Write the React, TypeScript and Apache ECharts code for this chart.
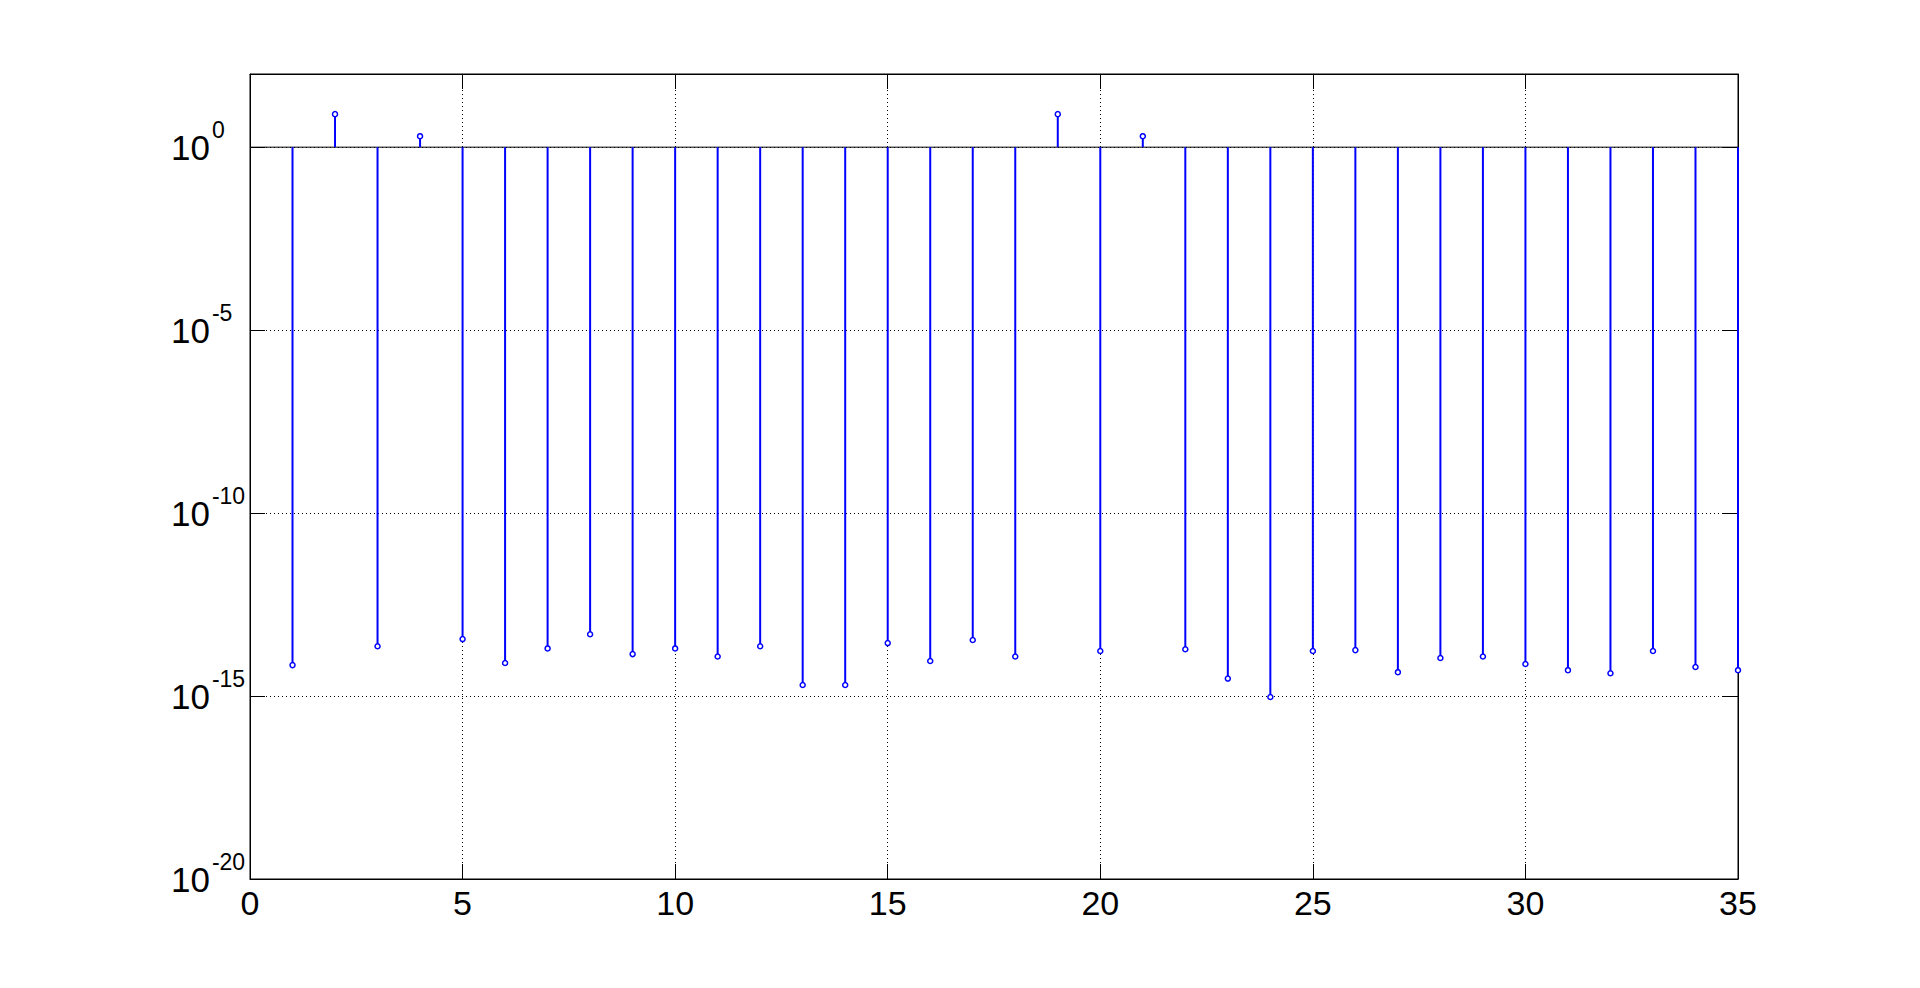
import React, { useEffect, useRef } from "react";
import * as echarts from "echarts";

const xValues: number[] = [
  1, 2, 3, 4, 5, 6, 7, 8, 9, 10, 11, 12, 13, 14, 15, 16, 17, 18, 19, 20,
  21, 22, 23, 24, 25, 26, 27, 28, 29, 30, 31, 32, 33, 34, 35,
];
const yValues: number[] = [
  7.0e-15, 8, 2.3e-14, 2, 3.6e-14, 8.0e-15, 2.0e-14, 4.9e-14, 1.4e-14, 2.0e-14,
  1.2e-14, 2.3e-14, 2.0e-15, 2.0e-15, 2.8e-14, 9.1e-15, 3.4e-14, 1.2e-14, 8, 1.7e-14,
  2, 1.9e-14, 3.0e-15, 9.4e-16, 1.7e-14, 1.8e-14, 4.5e-15, 1.1e-14, 1.2e-14, 7.5e-15,
  5.1e-15, 4.2e-15, 1.7e-14, 6.2e-15, 5.1e-15,
];
const baseValue = 1;
const xMin = 0;
const xMax = 35;
const xInterval = 5;
const yMin = 1e-20;
const yMax = 1e2;
const yDecadeStep = 5;

const FONT = "'Liberation Sans', Arial, Helvetica, sans-serif";

export default function App() {
  const ref = useRef<HTMLDivElement>(null);
  useEffect(() => {
    if (!ref.current) return;
    const chart = echarts.init(ref.current, undefined, { renderer: "svg" });
    const data = xValues.map((x, i) => [x, yValues[i]]);
    const yLabelFmt = (v: number) => {
      const e = Math.round(Math.log10(v));
      if (e % 5 !== 0) return "";
      return `{b|10}{e|${e}}`;
    };
    const splitLine = {
      show: true,
      lineStyle: { color: "#000", width: 1, type: [1, 3] as any },
    };
    const yCommon = {
      type: "log",
      logBase: 10,
      min: yMin,
      max: yMax,
      interval: yDecadeStep,
      splitNumber: 5,
    };
    chart.setOption({
      animation: false,
      backgroundColor: "#fff",
      grid: {
        left: 250,
        right: 182,
        top: 74,
        bottom: 109,
        show: true,
        borderColor: "#000",
        borderWidth: 1,
        backgroundColor: "transparent",
      },
      xAxis: [
        {
          type: "value",
          min: xMin,
          max: xMax,
          interval: xInterval,
          position: "bottom",
          axisLine: { show: true, onZero: false, lineStyle: { color: "#000", width: 1 } },
          axisTick: { show: true, inside: true, length: 15, lineStyle: { color: "#000" } },
          axisLabel: {
            show: true,
            color: "#000",
            fontSize: 34,
            fontFamily: FONT,
            margin: 7,
          },
          splitLine,
        },
        {
          type: "value",
          min: xMin,
          max: xMax,
          interval: xInterval,
          position: "top",
          axisLine: { show: true, onZero: false, lineStyle: { color: "#000", width: 1 } },
          axisTick: { show: true, inside: true, length: 15, lineStyle: { color: "#000" } },
          axisLabel: { show: false },
          splitLine: { show: false },
        },
      ],
      yAxis: [
        {
          ...yCommon,
          position: "left",
          axisLine: { show: true, onZero: false, lineStyle: { color: "#000", width: 1 } },
          axisTick: { show: true, inside: true, length: 15, lineStyle: { color: "#000" } },
          axisLabel: {
            show: true,
            align: "left",
            margin: 79,
            formatter: yLabelFmt,
            showMaxLabel: false,
            rich: {
              b: { fontSize: 35, fontFamily: FONT, color: "#000", lineHeight: 58 },
              e: {
                fontSize: 23,
                fontFamily: FONT,
                color: "#000",
                lineHeight: 23,
                verticalAlign: "top",
                padding: [0, 0, 0, 2],
              },
            },
          },
          splitLine,
        },
        {
          ...yCommon,
          position: "right",
          axisLine: { show: true, onZero: false, lineStyle: { color: "#000", width: 1 } },
          axisTick: { show: true, inside: true, length: 15, lineStyle: { color: "#000" } },
          axisLabel: { show: false },
          splitLine: { show: false },
        },
      ],
      series: [
        {
          type: "line",
          xAxisIndex: 0,
          yAxisIndex: 0,
          data: [
            [xMin, baseValue],
            [xMax, baseValue],
          ],
          symbol: "none",
          lineStyle: { color: "#000", width: 1 },
          silent: true,
          z: 1,
        },
        {
          type: "custom",
          xAxisIndex: 0,
          yAxisIndex: 0,
          data,
          clip: false,
          z: 2,
          renderItem: (params: any, api: any) => {
            const x = api.value(0);
            const y = api.value(1);
            const p0 = api.coord([x, baseValue]);
            const p1 = api.coord([x, y]);
            return {
              type: "group",
              children: [
                {
                  type: "line",
                  shape: { x1: p0[0], y1: p0[1], x2: p1[0], y2: p1[1] },
                  style: { stroke: "#0000ff", lineWidth: 2 },
                },
                {
                  type: "circle",
                  shape: { cx: p1[0], cy: p1[1], r: 2.5 },
                  style: { fill: "#fff", stroke: "#0000ff", lineWidth: 1.5 },
                },
              ],
            };
          },
        },
      ],
    });
    return () => chart.dispose();
  }, []);
  return (
    <div
      ref={ref}
      style={{ position: "fixed", left: 0, top: 0, width: 1920, height: 988, background: "#fff" }}
    />
  );
}
